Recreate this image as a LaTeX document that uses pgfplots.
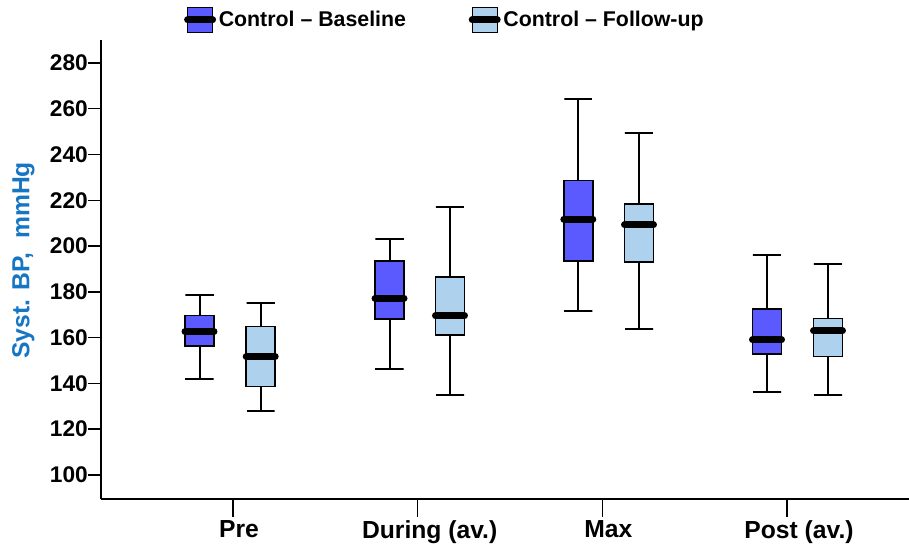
\documentclass[border=0pt]{standalone}
\usepackage{pgfplots}
\pgfplotsset{compat=1.18}
\usetikzlibrary{calc}
\usepackage{fontspec}
\setmainfont{Liberation Sans}
\definecolor{baseC}{RGB}{90,90,255}
\definecolor{followC}{RGB}{174,209,238}
\definecolor{labC}{RGB}{22,118,196}
\begin{document}
\begin{tikzpicture}
\begin{axis}[
  scale only axis, width=606pt, height=344.25pt,
  xmin=0.2852, xmax=4.6606, ymin=89.5, ymax=290,
  axis x line*=bottom, axis y line*=left,
  axis line style={line width=1.1pt, -},
  xtick={1,2,3,4},
  xticklabels={Pre,\hspace*{9pt}During (av.),Max,\hspace*{9pt}Post (av.)},
  ytick={100,120,...,280},
  tick align=outside, major tick length=9.75pt,
  xtick style={/pgfplots/major tick length=13.5pt},
  tick style={line width=1.1pt, black},
  /pgf/number format/assume math mode=true,
  yticklabel style={font=\fontsize{17}{17}\selectfont\bfseries, inner sep=0pt},
  xticklabel style={font=\fontsize{18.5}{18.5}\selectfont\bfseries, inner sep=0pt, yshift=-6pt, xshift=4.5pt},
  ylabel={Syst. BP,\ \ mmHg},
  every axis y label/.style={at={(axis description cs:-0.096,0.52)}, rotate=90, anchor=center,
     font=\fontsize{18.5}{18.5}\selectfont\bfseries, text=labC},
  legend columns=2,
  legend style={at={(axis description cs:0.426,1.0436)}, anchor=center, draw=none, fill=none,
     font=\fontsize{16}{16}\selectfont\bfseries,
     /tikz/every even column/.append style={column sep=45pt}},
  whisk/.style={black, line width=1.5pt, forget plot},
  boxB/.style={fill=baseC, draw=black, line width=1.2pt, forget plot},
  boxF/.style={fill=followC, draw=black, line width=1.2pt, forget plot},
  med/.style={black, line width=5.25pt, line cap=round, forget plot},
]
\addlegendimage{legend image code/.code={\draw[fill=baseC,draw=black,line width=0.8pt] (0pt,-9.4pt) rectangle (18.75pt,9.4pt); \draw[line width=5.25pt,line cap=round] (0pt,0pt)--(18.75pt,0pt);}}
\addlegendentry{Control -- Baseline}
\addlegendimage{legend image code/.code={\draw[fill=followC,draw=black,line width=0.8pt] (0pt,-9.4pt) rectangle (18.75pt,9.4pt); \draw[line width=5.25pt,line cap=round] (0pt,0pt)--(18.75pt,0pt);}}
\addlegendentry{Control -- Follow-up}
% ---- Pre, baseline (centre 0.8186): 141.9 / 156.4 / 162.6 / 169.6 / 178.6
\addplot[whisk] coordinates {(0.7426,141.9) (0.8946,141.9) (0.8186,141.9) (0.8186,178.6) (0.7426,178.6) (0.8946,178.6)};
\addplot[boxB] coordinates {(0.7401,156.4) (0.8971,156.4) (0.8971,169.6) (0.7401,169.6)} -- cycle;
\addplot[med] coordinates {(0.7401,162.6) (0.8971,162.6)};
% ---- During, baseline (1.8475): 146.2 / 168.0 / 177.2 / 193.4 / 203.1
\addplot[whisk] coordinates {(1.7715,146.2) (1.9235,146.2) (1.8475,146.2) (1.8475,203.1) (1.7715,203.1) (1.9235,203.1)};
\addplot[boxB] coordinates {(1.7690,168.0) (1.9260,168.0) (1.9260,193.4) (1.7690,193.4)} -- cycle;
\addplot[med] coordinates {(1.7690,177.2) (1.9260,177.2)};
% ---- Max, baseline (2.870): 171.8 / 193.4 / 211.8 / 228.6 / 264.1
\addplot[whisk] coordinates {(2.7940,171.8) (2.9460,171.8) (2.8700,171.8) (2.8700,264.1) (2.7940,264.1) (2.9460,264.1)};
\addplot[boxB] coordinates {(2.7915,193.4) (2.9485,193.4) (2.9485,228.6) (2.7915,228.6)} -- cycle;
\addplot[med] coordinates {(2.7915,211.8) (2.9485,211.8)};
% ---- Post, baseline (3.8916): 136.1 / 152.9 / 159.0 / 172.5 / 196.1
\addplot[whisk] coordinates {(3.8156,136.1) (3.9676,136.1) (3.8916,136.1) (3.8916,196.1) (3.8156,196.1) (3.9676,196.1)};
\addplot[boxB] coordinates {(3.8131,152.9) (3.9701,152.9) (3.9701,172.5) (3.8131,172.5)} -- cycle;
\addplot[med] coordinates {(3.8131,159.0) (3.9701,159.0)};
% ---- Pre, follow-up (1.150): 128.0 / 138.6 / 151.7 / 164.8 / 175.0
\addplot[whisk] coordinates {(1.0740,128.0) (1.2260,128.0) (1.1500,128.0) (1.1500,175.0) (1.0740,175.0) (1.2260,175.0)};
\addplot[boxF] coordinates {(1.0715,138.6) (1.2285,138.6) (1.2285,164.8) (1.0715,164.8)} -- cycle;
\addplot[med] coordinates {(1.0715,151.7) (1.2285,151.7)};
% ---- During, follow-up (2.175): 135.0 / 161.2 / 169.5 / 186.6 / 217.1
\addplot[whisk] coordinates {(2.0990,135.0) (2.2510,135.0) (2.1750,135.0) (2.1750,217.1) (2.0990,217.1) (2.2510,217.1)};
\addplot[boxF] coordinates {(2.0965,161.2) (2.2535,161.2) (2.2535,186.6) (2.0965,186.6)} -- cycle;
\addplot[med] coordinates {(2.0965,169.5) (2.2535,169.5)};
% ---- Max, follow-up (3.1985): 163.9 / 192.9 / 209.2 / 218.3 / 249.3
\addplot[whisk] coordinates {(3.1225,163.9) (3.2745,163.9) (3.1985,163.9) (3.1985,249.3) (3.1225,249.3) (3.2745,249.3)};
\addplot[boxF] coordinates {(3.1200,192.9) (3.2770,192.9) (3.2770,218.3) (3.1200,218.3)} -- cycle;
\addplot[med] coordinates {(3.1200,209.2) (3.2770,209.2)};
% ---- Post, follow-up (4.2219): 134.8 / 151.7 / 162.9 / 168.3 / 192.3
\addplot[whisk] coordinates {(4.1459,134.8) (4.2979,134.8) (4.2219,134.8) (4.2219,192.3) (4.1459,192.3) (4.2979,192.3)};
\addplot[boxF] coordinates {(4.1434,151.7) (4.3004,151.7) (4.3004,168.3) (4.1434,168.3)} -- cycle;
\addplot[med] coordinates {(4.1434,162.9) (4.3004,162.9)};
\end{axis}
\pgfresetboundingbox
\path ($(current axis.south west)+(-75.75pt,-36pt)$) rectangle ($(current axis.north east)+(0pt,30pt)$);
\end{tikzpicture}
\end{document}
